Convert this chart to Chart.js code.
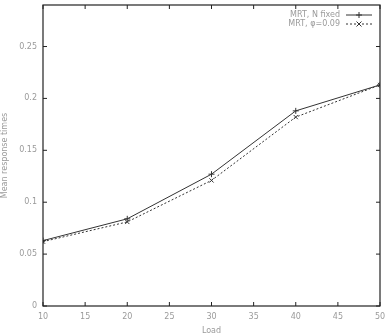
<!DOCTYPE html>
<html>
<head>
<meta charset="utf-8">
<script src="https://cdn.jsdelivr.net/npm/chart.js@4/dist/chart.umd.min.js"></script>
<style>
  html, body { margin: 0; padding: 0; background: #fff; }
  #wrap { width: 385px; height: 336px; }
</style>
</head>
<body>
<div id="wrap"><canvas id="grafico" width="385" height="336"></canvas></div>
<script>
// datos
const cargas = [10, 20, 30, 40, 50];
const mrtFijo = [0.063, 0.084, 0.127, 0.188, 0.213];
const mrtPhi = [0.062, 0.081, 0.121, 0.182, 0.213];
const ticksX = [10, 15, 20, 25, 30, 35, 40, 45, 50];
const ticksY = [0, 0.05, 0.1, 0.15, 0.2, 0.25];
const etiquetas = ["MRT, N fixed", "MRT, \u03c6=0.09"];

const gris = "#9a9a9a";
const fuente = "'DejaVu Sans', sans-serif";

// marco con marcas hacia dentro y leyenda dentro del area
const marco = {
    id: "marco",
    afterDatasetsDraw(chart) {
        const ctx = chart.ctx;
        const a = chart.chartArea;
        const sx = chart.scales.x;
        const sy = chart.scales.y;
        ctx.save();
        ctx.strokeStyle = "#222";
        ctx.lineWidth = 1.2;
        ctx.strokeRect(a.left, a.top, a.right - a.left, a.bottom - a.top);
        ctx.lineWidth = 1;
        ticksX.forEach(v => {
            const px = sx.getPixelForValue(v);
            ctx.beginPath();
            ctx.moveTo(px, a.bottom); ctx.lineTo(px, a.bottom - 4);
            ctx.moveTo(px, a.top); ctx.lineTo(px, a.top + 4);
            ctx.stroke();
        });
        ticksY.forEach(v => {
            const py = sy.getPixelForValue(v);
            ctx.beginPath();
            ctx.moveTo(a.left, py); ctx.lineTo(a.left + 4, py);
            ctx.moveTo(a.right, py); ctx.lineTo(a.right - 4, py);
            ctx.stroke();
        });
        // leyenda
        ctx.font = "8px " + fuente;
        ctx.fillStyle = gris;
        ctx.textAlign = "right";
        ctx.textBaseline = "middle";
        chart.data.datasets.forEach((ds, i) => {
            const y = a.top + 10 + i * 9;
            ctx.fillText(ds.label, a.right - 40, y);
            ctx.strokeStyle = ds.borderColor;
            ctx.lineWidth = 1;
            ctx.setLineDash(ds.borderDash || []);
            ctx.beginPath();
            ctx.moveTo(a.right - 34, y); ctx.lineTo(a.right - 8, y);
            ctx.stroke();
            ctx.setLineDash([]);
            const cx = a.right - 21;
            ctx.beginPath();
            if (ds.pointStyle === "cross") {
                ctx.moveTo(cx - 3, y); ctx.lineTo(cx + 3, y);
                ctx.moveTo(cx, y - 3); ctx.lineTo(cx, y + 3);
            } else {
                ctx.moveTo(cx - 2.5, y - 2.5); ctx.lineTo(cx + 2.5, y + 2.5);
                ctx.moveTo(cx - 2.5, y + 2.5); ctx.lineTo(cx + 2.5, y - 2.5);
            }
            ctx.stroke();
        });
        ctx.restore();
    }
};

new Chart(document.getElementById("grafico").getContext("2d"), {
    type: "line",
    data: {
        labels: cargas,
        datasets: [
            {
                label: etiquetas[0],
                data: cargas.map((c, i) => ({ x: c, y: mrtFijo[i] })),
                borderColor: "#333",
                borderWidth: 1,
                pointStyle: "cross",
                pointRadius: 3,
                pointBorderColor: "#333",
                pointBorderWidth: 1,
                fill: false,
                tension: 0
            },
            {
                label: etiquetas[1],
                data: cargas.map((c, i) => ({ x: c, y: mrtPhi[i] })),
                borderColor: "#333",
                borderWidth: 1,
                borderDash: [2, 2],
                pointStyle: "crossRot",
                pointRadius: 3,
                pointBorderColor: "#333",
                pointBorderWidth: 1,
                fill: false,
                tension: 0
            }
        ]
    },
    options: {
        responsive: false,
        animation: false,
        layout: { padding: { top: 5, right: 2, left: 0, bottom: 0 } },
        plugins: {
            legend: { display: false },
            tooltip: { enabled: false }
        },
        scales: {
            x: {
                type: "linear",
                min: 10,
                max: 50,
                afterBuildTicks: s => { s.ticks = ticksX.map(v => ({ value: v })); },
                afterFit: s => { s.height = 30; s.paddingRight = 0; s.paddingLeft = 0; },
                grid: { display: false, drawTicks: false },
                border: { display: false },
                ticks: {
                    color: gris,
                    font: { family: fuente, size: 8 },
                    padding: 6,
                    maxRotation: 0,
                    autoSkip: false
                },
                title: {
                    display: true,
                    text: "Load",
                    color: gris,
                    font: { family: fuente, size: 8 },
                    padding: { top: 2, bottom: 0 }
                }
            },
            y: {
                min: 0,
                max: 0.29,
                afterBuildTicks: s => { s.ticks = ticksY.map(v => ({ value: v })); },
                afterFit: s => { s.width = 43; s.paddingTop = 0; s.paddingBottom = 0; },
                grid: { display: false, drawTicks: false },
                border: { display: false },
                ticks: {
                    color: gris,
                    font: { family: fuente, size: 8 },
                    padding: 6,
                    callback: v => String(v)
                },
                title: {
                    display: true,
                    text: "Mean response times",
                    color: gris,
                    font: { family: fuente, size: 8 },
                    padding: { top: 0, bottom: 0 }
                }
            }
        }
    },
    plugins: [marco]
});
</script>
</body>
</html>
